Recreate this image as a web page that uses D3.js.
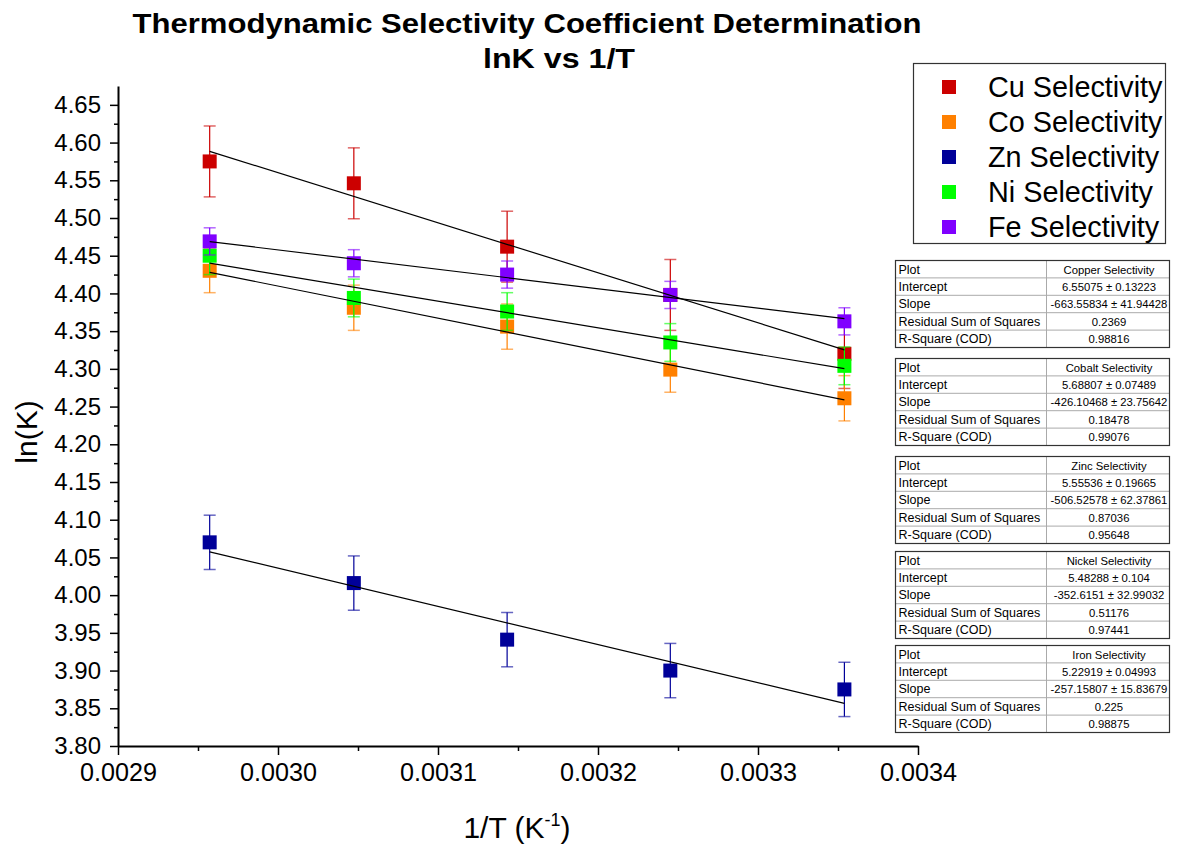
<!DOCTYPE html>
<html>
<head>
<meta charset="utf-8">
<script src="https://cdn.jsdelivr.net/npm/d3@7/dist/d3.min.js"></script>
<style>
  body { margin: 0; background: #fff; }
  svg { font-family: "Liberation Sans", Arial, sans-serif; }
</style>
</head>
<body>
<div id="chart"></div>
<script>
// ---- data ----
const invT = [0.0029573, 0.0030474, 0.0031432, 0.0032452, 0.0033540];
const seriesNames = ["Cu Selectivity", "Co Selectivity", "Zn Selectivity", "Ni Selectivity", "Fe Selectivity"];
const seriesColors = ["#cc0000", "#ff8000", "#000099", "#00ff00", "#8000ff"];
const cuLnK = [4.575, 4.546, 4.462, 4.398, 4.320];
const coLnK = [4.430, 4.381, 4.356, 4.299, 4.261];
const znLnK = [4.070, 4.016, 3.941, 3.900, 3.875];
const niLnK = [4.450, 4.394, 4.376, 4.335, 4.304];
const feLnK = [4.469, 4.440, 4.425, 4.398, 4.363];
const cuErr = [0.047, 0.047, 0.047, 0.047, 0.046];
const coErr = [0.029, 0.030, 0.030, 0.030, 0.030];
const znErr = [0.036, 0.036, 0.036, 0.036, 0.036];
const niErr = [0.025, 0.025, 0.025, 0.025, 0.025];
const feErr = [0.018, 0.018, 0.018, 0.018, 0.018];

// fit results (Origin linear fit tables)
const fitNames = ["Copper Selectivity", "Cobalt Selectivity", "Zinc Selectivity", "Nickel Selectivity", "Iron Selectivity"];
const intercepts = [6.55075, 5.68807, 5.55536, 5.48288, 5.22919];
const interceptErrs = [0.13223, 0.07489, 0.19665, 0.104, 0.04993];
const slopes = [-663.55834, -426.10468, -506.52578, -352.6151, -257.15807];
const slopeErrs = [41.94428, 23.75642, 62.37861, 32.99032, 15.83679];
const rss = [0.2369, 0.18478, 0.87036, 0.51176, 0.225];
const rSquare = [0.98816, 0.99076, 0.95648, 0.97441, 0.98875];

const xTicks = [0.0029, 0.0030, 0.0031, 0.0032, 0.0033, 0.0034];
const yTicks = d3.range(3.80, 4.651, 0.05);

const allLnK = [cuLnK, coLnK, znLnK, niLnK, feLnK];
const allErr = [cuErr, coErr, znErr, niErr, feErr];

// ---- layout ----
const W = 1190, H = 849;
const svg = d3.select("#chart").append("svg")
    .attr("width", W)
    .attr("height", H);

const x = d3.scaleLinear().domain([0.0029, 0.0034]).range([118, 918]);
const y = d3.scaleLinear().domain([3.80, 4.675]).range([746, 86]);

// ---- title ----
svg.append("text")
    .attr("x", 527).attr("y", 33)
    .attr("text-anchor", "middle")
    .attr("font-weight", "bold")
    .attr("font-size", 28)
    .attr("textLength", 789)
    .attr("lengthAdjust", "spacingAndGlyphs")
    .text("Thermodynamic Selectivity Coefficient Determination");
svg.append("text")
    .attr("x", 559).attr("y", 68)
    .attr("text-anchor", "middle")
    .attr("font-weight", "bold")
    .attr("font-size", 28)
    .attr("textLength", 152)
    .attr("lengthAdjust", "spacingAndGlyphs")
    .text("lnK vs 1/T");

// ---- axes ----
const yMinor = d3.range(3.825, 4.675, 0.05);
svg.append("g")
    .attr("transform", `translate(${x.range()[0]},0)`)
    .call(d3.axisLeft(y).tickValues(yMinor).tickSize(4).tickSizeOuter(0).tickFormat(""))
    .call(g => g.select(".domain").remove())
    .selectAll("line").attr("stroke-width", 1.5);

const yAxis = svg.append("g")
    .attr("transform", `translate(${x.range()[0]},0)`)
    .call(d3.axisLeft(y).tickValues(yTicks).tickSize(8).tickSizeOuter(0).tickPadding(9)
        .tickFormat(d3.format(".2f")));
yAxis.select(".domain").attr("stroke-width", 2);
yAxis.selectAll("line").attr("stroke-width", 1.5);
yAxis.selectAll("text")
    .attr("font-size", 24)
    .attr("font-family", "Liberation Sans, Arial, sans-serif");

const xMinor = [0.00295, 0.00305, 0.00315, 0.00325, 0.00335];
svg.append("g")
    .attr("transform", `translate(0,${y.range()[0]})`)
    .call(d3.axisBottom(x).tickValues(xMinor).tickSize(5).tickSizeOuter(0).tickFormat(""))
    .call(g => g.select(".domain").remove())
    .selectAll("line").attr("stroke-width", 1.5);

const xAxis = svg.append("g")
    .attr("transform", `translate(0,${y.range()[0]})`)
    .call(d3.axisBottom(x).tickValues(xTicks).tickSize(9).tickSizeOuter(0).tickPadding(8)
        .tickFormat(d3.format(".4f")));
xAxis.select(".domain").attr("stroke-width", 2);
xAxis.selectAll("line").attr("stroke-width", 1.5);
xAxis.selectAll("text")
    .attr("font-size", 25)
    .attr("textLength", 77)
    .attr("lengthAdjust", "spacingAndGlyphs")
    .attr("font-family", "Liberation Sans, Arial, sans-serif");

// axis titles
svg.append("text")
    .attr("transform", "translate(37,432) rotate(-90)")
    .attr("text-anchor", "middle")
    .attr("font-size", 30)
    .text("ln(K)");

const xTitle = svg.append("text")
    .attr("x", 517).attr("y", 838)
    .attr("text-anchor", "middle")
    .attr("font-size", 30);
xTitle.append("tspan").text("1/T (K");
xTitle.append("tspan").attr("font-size", 18).attr("dy", -12).text("-1");
xTitle.append("tspan").attr("dy", 12).text(")");

// ---- series: error bars + markers ----
const capW = 12, mSize = 14;
allLnK.forEach((vals, s) => {
    const pts = vals.map((v, i) => ({ x: invT[i], y: v, e: allErr[s][i] }));
    const g = svg.append("g").attr("class", "series");
    const color = seriesColors[s];

    g.selectAll(".ebar")
        .data(pts)
        .enter()
        .append("line")
        .attr("x1", d => x(d.x)).attr("x2", d => x(d.x))
        .attr("y1", d => y(d.y - d.e)).attr("y2", d => y(d.y + d.e))
        .attr("stroke", color)
        .attr("stroke-width", 1.2);

    [-1, 1].forEach(sign => {
        g.selectAll(".cap" + sign)
            .data(pts)
            .enter()
            .append("line")
            .attr("x1", d => x(d.x) - capW / 2).attr("x2", d => x(d.x) + capW / 2)
            .attr("y1", d => y(d.y + sign * d.e)).attr("y2", d => y(d.y + sign * d.e))
            .attr("stroke", color)
            .attr("stroke-opacity", 0.6)
            .attr("stroke-width", 1.5);
    });

    g.selectAll("rect")
        .data(pts)
        .enter()
        .append("rect")
        .attr("x", d => x(d.x) - mSize / 2)
        .attr("y", d => y(d.y) - mSize / 2)
        .attr("width", mSize)
        .attr("height", mSize)
        .attr("fill", color);
});

// ---- linear fits ----
const fitLine = d3.line().x(d => x(d[0])).y(d => y(d[1]));
intercepts.forEach((b, s) => {
    const ends = [invT[0], invT[invT.length - 1]].map(t => [t, b + slopes[s] * t]);
    svg.append("path")
        .datum(ends)
        .attr("d", fitLine)
        .attr("fill", "none")
        .attr("stroke", "#000")
        .attr("stroke-width", 1.2);
});

// ---- legend ----
const legend = svg.append("g");
legend.append("rect")
    .attr("x", 913.5).attr("y", 63.5)
    .attr("width", 252).attr("height", 180)
    .attr("fill", "#fff")
    .attr("stroke", "#333")
    .attr("stroke-width", 1.2);
seriesNames.forEach((name, i) => {
    const cy = 87 + i * 35;
    legend.append("rect")
        .attr("x", 942).attr("y", cy - 7)
        .attr("width", 14).attr("height", 14)
        .attr("fill", seriesColors[i]);
    legend.append("text")
        .attr("x", 988).attr("y", cy + 10)
        .attr("font-size", 28.8)
        .text(name);
});

// ---- fit tables ----
const tableTops = [260, 358, 456, 551, 645];
const tX = 895.5, tW = 274, tSplit = 1046.5, rowH = 17.4;
fitNames.forEach((name, k) => {
    const rows = [
        ["Plot", name],
        ["Intercept", `${intercepts[k]} \u00b1 ${interceptErrs[k]}`],
        ["Slope", `${slopes[k]} \u00b1 ${slopeErrs[k]}`],
        ["Residual Sum of Squares", String(rss[k])],
        ["R-Square (COD)", String(rSquare[k])]
    ];
    const top = tableTops[k] + 0.5;
    const tg = svg.append("g");
    tg.append("rect")
        .attr("x", tX).attr("y", top)
        .attr("width", tW).attr("height", rowH * rows.length)
        .attr("fill", "#fff");
    rows.forEach((r, j) => {
        if (j > 0) {
            tg.append("line")
                .attr("x1", tX).attr("x2", tX + tW)
                .attr("y1", top + j * rowH).attr("y2", top + j * rowH)
                .attr("stroke", "#aaa").attr("stroke-width", 1);
        }
        tg.append("text")
            .attr("x", tX + 3).attr("y", top + j * rowH + 13)
            .attr("font-size", 12.5)
            .text(r[0]);
        tg.append("text")
            .attr("x", (tSplit + tX + tW) / 2 + 1).attr("y", top + j * rowH + 13)
            .attr("text-anchor", "middle")
            .attr("font-size", 11.3)
            .text(r[1]);
    });
    tg.append("line")
        .attr("x1", tSplit).attr("x2", tSplit)
        .attr("y1", top).attr("y2", top + rowH * rows.length)
        .attr("stroke", "#aaa");
    tg.append("rect")
        .attr("x", tX).attr("y", top)
        .attr("width", tW).attr("height", rowH * rows.length)
        .attr("fill", "none")
        .attr("stroke", "#333")
        .attr("stroke-width", 1.2);
});
</script>
</body>
</html>
